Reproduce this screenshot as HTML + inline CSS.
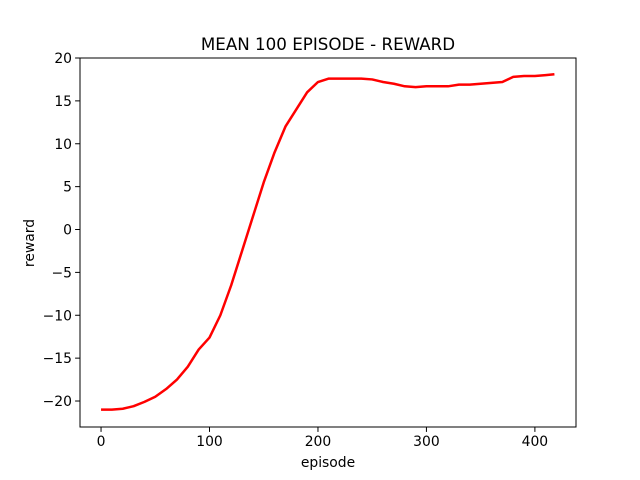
<!DOCTYPE html>
<html><head><meta charset="utf-8"><style>body{margin:0;background:#fff}svg{display:block;font-family:"DejaVu Sans","Liberation Sans",sans-serif}</style></head>
<body>
<svg id="chart" width="640" height="480">
<rect x="0" y="0" width="640" height="480" fill="#fff"/>
<text x="328" y="50" font-size="16.7" text-anchor="middle">MEAN 100 EPISODE - REWARD</text>
<text x="328" y="467" font-size="13.9" text-anchor="middle">episode</text>
<text x="34" y="243" font-size="13.9" text-anchor="middle" transform="rotate(-90 34 243)">reward</text>
<g id="ticks"></g>
<g id="series"></g>
<rect x="80" y="58" width="496" height="369" fill="none" stroke="#000" stroke-width="1"/>
</svg>
<script>
const episodes=[0,10,20,30,40,50,60,70,80,90,100,110,120,130,140,150,160,170,180,190,200,210,220,230,240,250,260,270,280,290,300,310,320,330,340,350,360,370,380,390,400,410,418];
const rewards=[-21,-21,-20.9,-20.6,-20.1,-19.5,-18.6,-17.5,-16,-14,-12.6,-10,-6.5,-2.5,1.5,5.5,9,12,14,16,17.2,17.6,17.6,17.6,17.6,17.5,17.2,17.0,16.7,16.6,16.7,16.7,16.7,16.9,16.9,17.0,17.1,17.2,17.8,17.9,17.9,18.0,18.1];
const xTicks=[0,100,200,300,400];
const yTicks=[-20,-15,-10,-5,0,5,10,15,20];
const X0=80,X1=576,Y0=58,Y1=427;
const xmin=-19.4,xmax=437.9,ymin=-23.03,ymax=20;
const sx=v=>X0+(v-xmin)/(xmax-xmin)*(X1-X0);
const sy=v=>Y1-(v-ymin)/(ymax-ymin)*(Y1-Y0);
const NS='http://www.w3.org/2000/svg';
const tg=document.getElementById('ticks');
xTicks.forEach(t=>{
 const l=document.createElementNS(NS,'line');
 l.setAttribute('x1',sx(t));l.setAttribute('x2',sx(t));l.setAttribute('y1',Y1);l.setAttribute('y2',Y1+4.9);l.setAttribute('stroke','#000');
 
 
 tg.appendChild(l);
 const tx=document.createElementNS(NS,'text');
 tx.setAttribute('x',sx(t));tx.setAttribute('y',Y1+19);tx.setAttribute('font-size','13.9');tx.setAttribute('text-anchor','middle');tx.textContent=t;
 
 
 tg.appendChild(tx);
});
yTicks.forEach(t=>{
 const l=document.createElementNS(NS,'line');
 l.setAttribute('x1',X0-4.9);l.setAttribute('x2',X0);l.setAttribute('y1',sy(t));l.setAttribute('y2',sy(t));l.setAttribute('stroke','#000');
 
 
 tg.appendChild(l);
 const tx=document.createElementNS(NS,'text');
 tx.setAttribute('x',X0-8);tx.setAttribute('y',sy(t)+5);tx.setAttribute('font-size','13.9');tx.setAttribute('text-anchor','end');tx.textContent=t<0?'\u2212'+Math.abs(t):t;
 
 
 tg.appendChild(tx);
});
const p=document.createElementNS(NS,'polyline');
p.setAttribute('points',episodes.map((e,i)=>sx(e)+','+sy(rewards[i])).join(' '));
p.setAttribute('fill','none');p.setAttribute('stroke','#ff0000');p.setAttribute('stroke-width','2.5');p.setAttribute('stroke-linejoin','round');


document.getElementById('series').appendChild(p);
</script>
</body></html>
